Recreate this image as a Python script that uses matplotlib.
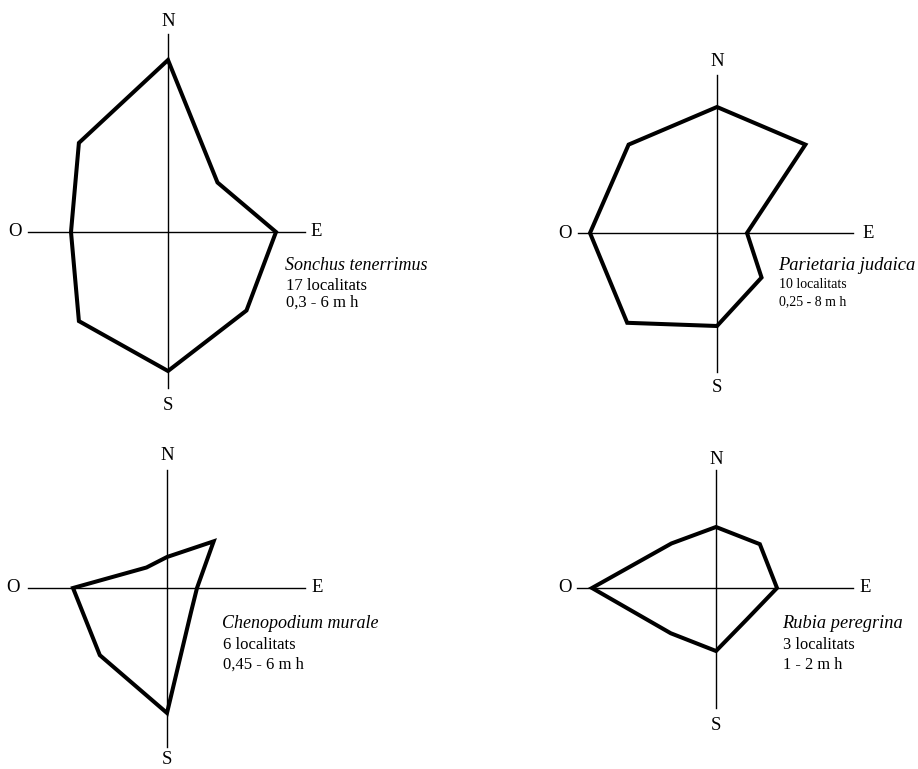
#!/usr/bin/env python3
# Roses d'orientacio (N, E, S, O) per a quatre especies rupicoles.
import matplotlib

matplotlib.use("Agg")
import matplotlib.pyplot as plt
import numpy as np

plt.rcParams["font.family"] = ["Liberation Serif", "DejaVu Serif"]

# Directions in drawing order, angles in degrees (N up, E right)
DIRECTIONS = ["N", "NE", "E", "SE", "S", "SO", "O", "NO"]
ANGLES = [90, 45, 0, -45, -90, -135, 180, 135]

# Radial extent of each polygon vertex (same unit in every rose)
sonchus = [172, 70, 108, 111, 139, 126, 97, 126]
parietaria = [126, 125, 30, 63, 93, 127, 127, 125]
chenopodium = [31, 66, 30, 34, 125, 95, 94, 29]
rubia = [61, 62, 61, 44, 63, 64, 124, 63]

species = ["Sonchus tenerrimus", "Parietaria judaica",
           "Chenopodium murale", "Rubia peregrina"]
localitats = ["17 localitats", "10 localitats", "6 localitats", "3 localitats"]
alcades = ["0,3 - 6 m h", "0,25 - 8 m h", "0,45 - 6 m h", "1 - 2 m h"]
values = [sonchus, parietaria, chenopodium, rubia]

W, H = 918, 769
HALF = 230

# layout: centre pixel, arm lengths (N, S, O, E), label offsets, text block
PANELS = [
    {"center": (168, 232), "arms": (198, 156, 140, 137), "labels": (210, 173, 153, 148),
     "text": (117, 33, 54, 71), "sizes": (13, 12)},
    {"center": (717, 233), "arms": (158, 139, 139, 136), "labels": (171, 155, 152, 151),
     "text": (61, 33, 52, 69), "sizes": (13.3, 10)},
    {"center": (167, 588), "arms": (118, 159, 139, 138), "labels": (133, 171, 154, 150),
     "text": (55, 35, 57, 77), "sizes": (13, 12)},
    {"center": (716, 588), "arms": (118, 120, 139, 137), "labels": (129, 137, 151, 149),
     "text": (66, 35, 57, 77), "sizes": (13.2, 11.8)},
]

fig = plt.figure(figsize=(W / 100, H / 100), dpi=100)
fig.patch.set_facecolor("white")

for panel, vals, name, loc, alt in zip(PANELS, values, species, localitats, alcades):
    cx, cy = panel["center"]
    ax = fig.add_axes([(cx - HALF) / W, (H - cy - HALF) / H, 2 * HALF / W, 2 * HALF / H])
    ax.set_xlim(-HALF, HALF)
    ax.set_ylim(-HALF, HALF)
    ax.axis("off")
    ax.patch.set_alpha(0)

    n_arm, s_arm, o_arm, e_arm = panel["arms"]
    ax.plot([0, 0], [-s_arm, n_arm], color="black", lw=1.0, zorder=1)
    ax.plot([-o_arm, e_arm], [0, 0], color="black", lw=1.0, zorder=1)

    n_lab, s_lab, o_lab, e_lab = panel["labels"]
    kw = dict(fontsize=13.5, ha="center", va="center", color="black")
    ax.text(0, n_lab, "N", **kw)
    ax.text(0, -s_lab, "S", **kw)
    ax.text(-o_lab, 0, "O", **kw)
    ax.text(e_lab, 0, "E", **kw)

    theta = np.deg2rad(ANGLES)
    r = np.array(vals, dtype=float)
    xs = r * np.cos(theta)
    ys = r * np.sin(theta)
    ax.fill(xs, ys, facecolor="none", edgecolor="black", lw=2.9,
            joinstyle="miter", zorder=2)

    tx, d1, d2, d3 = panel["text"]
    big, small = panel["sizes"]
    ax.text(tx, -d1, name, fontsize=big, style="italic", ha="left", va="center")
    ax.text(tx + 1, -d2, loc, fontsize=small, ha="left", va="center")
    ax.text(tx + 1, -d3, alt, fontsize=small, ha="left", va="center")

fig.savefig("out.png", dpi=100, facecolor="white")
